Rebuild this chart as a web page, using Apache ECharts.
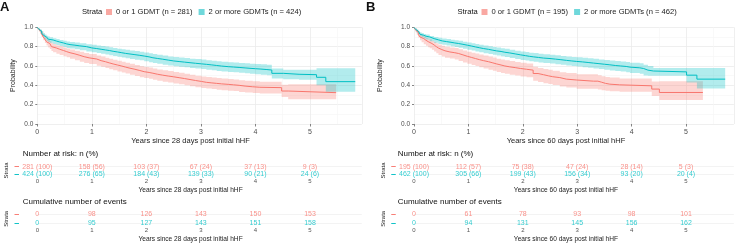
<!DOCTYPE html>
<html>
<head>
<meta charset="utf-8">
<script src="https://cdn.jsdelivr.net/npm/echarts@6/dist/echarts.min.js"></script>
<style>html,body{margin:0;padding:0;background:#fff}#chart{width:735px;height:244px}</style>
</head>
<body>
<div id="chart"></div>
<script>
// strata + group sizes
const strata = ['0 or 1 GDMT', '2 or more GDMTs'];
const nA = [281, 424];
const nB = [195, 462];
const tableYears = [0, 1, 2, 3, 4, 5];

// panel A (28 days post initial hHF) - KM curves
const timeRedA = [0, 0.03, 0.05, 0.08, 0.11, 0.14, 0.17, 0.2, 0.23, 0.26, 0.29, 0.35, 0.41, 0.48, 0.54, 0.6, 0.69, 0.78, 0.86, 0.95, 1.09, 1.17, 1.25, 1.32, 1.39, 1.47, 1.55, 1.62, 1.7, 1.79, 1.88, 1.96, 2.05, 2.12, 2.2, 2.3, 2.4, 2.5, 2.6, 2.7, 2.8, 2.9, 3.01, 3.1, 3.2, 3.29, 3.38, 3.5, 3.6, 3.7, 3.81, 3.95, 4.08, 4.48, 4.6, 5.48];
const survRedA = [1, 0.975, 0.955, 0.93, 0.9, 0.875, 0.85, 0.832, 0.817, 0.8, 0.786, 0.773, 0.76, 0.748, 0.737, 0.725, 0.71, 0.696, 0.684, 0.672, 0.655, 0.644, 0.632, 0.621, 0.61, 0.599, 0.588, 0.577, 0.566, 0.553, 0.541, 0.533, 0.525, 0.515, 0.505, 0.496, 0.488, 0.479, 0.47, 0.46, 0.45, 0.44, 0.431, 0.425, 0.42, 0.415, 0.41, 0.405, 0.4, 0.392, 0.385, 0.38, 0.376, 0.341, 0.324, 0.324];
const lowRedA  = [1, 0.955, 0.93, 0.9, 0.866, 0.838, 0.811, 0.791, 0.775, 0.756, 0.741, 0.727, 0.713, 0.701, 0.689, 0.676, 0.66, 0.645, 0.632, 0.62, 0.602, 0.591, 0.578, 0.567, 0.555, 0.544, 0.532, 0.521, 0.51, 0.497, 0.484, 0.476, 0.467, 0.457, 0.447, 0.438, 0.429, 0.42, 0.411, 0.401, 0.391, 0.381, 0.372, 0.366, 0.361, 0.355, 0.35, 0.345, 0.34, 0.332, 0.325, 0.32, 0.315, 0.28, 0.255, 0.255];
const upRedA   = [1, 0.99, 0.975, 0.955, 0.93, 0.908, 0.886, 0.869, 0.855, 0.84, 0.827, 0.815, 0.803, 0.792, 0.782, 0.771, 0.757, 0.747, 0.733, 0.724, 0.708, 0.697, 0.686, 0.676, 0.665, 0.655, 0.644, 0.633, 0.622, 0.61, 0.598, 0.59, 0.583, 0.573, 0.564, 0.555, 0.547, 0.538, 0.53, 0.52, 0.51, 0.5, 0.491, 0.485, 0.48, 0.475, 0.47, 0.465, 0.46, 0.453, 0.446, 0.442, 0.438, 0.405, 0.41, 0.41];

const timeBlueA = [0, 0.03, 0.05, 0.08, 0.11, 0.14, 0.17, 0.2, 0.23, 0.29, 0.35, 0.41, 0.48, 0.54, 0.6, 0.69, 0.78, 0.9, 1.0, 1.09, 1.17, 1.25, 1.32, 1.39, 1.47, 1.55, 1.62, 1.7, 1.79, 1.88, 1.96, 2.05, 2.12, 2.2, 2.3, 2.4, 2.5, 2.6, 2.7, 2.8, 2.9, 3.01, 3.1, 3.2, 3.29, 3.38, 3.5, 3.6, 3.7, 3.81, 3.9, 4.0, 4.1, 4.21, 4.3, 4.51, 4.8, 5.12, 5.29, 5.83];
const survBlueA = [1, 0.978, 0.962, 0.94, 0.918, 0.9, 0.886, 0.877, 0.869, 0.858, 0.848, 0.838, 0.828, 0.821, 0.815, 0.808, 0.8, 0.787, 0.78, 0.773, 0.766, 0.76, 0.752, 0.745, 0.737, 0.73, 0.724, 0.717, 0.71, 0.703, 0.694, 0.685, 0.678, 0.67, 0.661, 0.652, 0.646, 0.64, 0.634, 0.628, 0.622, 0.617, 0.611, 0.605, 0.599, 0.593, 0.589, 0.585, 0.58, 0.576, 0.572, 0.568, 0.563, 0.558, 0.524, 0.514, 0.51, 0.483, 0.438, 0.438];
const lowBlueA  = [1, 0.965, 0.945, 0.92, 0.895, 0.875, 0.859, 0.849, 0.84, 0.828, 0.817, 0.806, 0.795, 0.787, 0.78, 0.772, 0.763, 0.749, 0.741, 0.733, 0.726, 0.719, 0.711, 0.703, 0.695, 0.687, 0.68, 0.673, 0.665, 0.658, 0.648, 0.639, 0.631, 0.623, 0.614, 0.605, 0.598, 0.592, 0.586, 0.58, 0.574, 0.568, 0.562, 0.555, 0.549, 0.543, 0.539, 0.534, 0.529, 0.524, 0.52, 0.515, 0.509, 0.504, 0.47, 0.462, 0.458, 0.4, 0.334, 0.334];
const upBlueA   = [1, 0.99, 0.978, 0.96, 0.94, 0.925, 0.912, 0.904, 0.897, 0.887, 0.878, 0.869, 0.86, 0.854, 0.849, 0.843, 0.836, 0.825, 0.819, 0.813, 0.806, 0.801, 0.793, 0.787, 0.779, 0.773, 0.767, 0.761, 0.755, 0.748, 0.74, 0.731, 0.725, 0.717, 0.708, 0.699, 0.694, 0.688, 0.682, 0.676, 0.671, 0.666, 0.66, 0.655, 0.649, 0.643, 0.639, 0.636, 0.631, 0.628, 0.624, 0.621, 0.617, 0.612, 0.575, 0.562, 0.56, 0.576, 0.576, 0.576];

// panel B (60 days post initial hHF)
const timeRedB = [0, 0.03, 0.05, 0.08, 0.11, 0.14, 0.18, 0.22, 0.26, 0.29, 0.33, 0.37, 0.41, 0.45, 0.51, 0.57, 0.66, 0.75, 0.82, 0.9, 0.98, 1.06, 1.13, 1.2, 1.28, 1.37, 1.45, 1.52, 1.6, 1.67, 1.76, 1.86, 1.96, 2.07, 2.19, 2.28, 2.38, 2.47, 2.55, 2.68, 2.8, 2.99, 3.3, 3.38, 3.45, 3.52, 3.6, 3.78, 4.37, 4.51, 5.31];
const survRedB = [1, 0.97, 0.95, 0.925, 0.9, 0.883, 0.866, 0.852, 0.84, 0.832, 0.817, 0.8, 0.785, 0.77, 0.757, 0.745, 0.737, 0.729, 0.715, 0.7, 0.688, 0.677, 0.666, 0.655, 0.644, 0.632, 0.621, 0.61, 0.6, 0.591, 0.583, 0.574, 0.566, 0.557, 0.522, 0.51, 0.498, 0.489, 0.48, 0.464, 0.455, 0.443, 0.443, 0.432, 0.42, 0.412, 0.405, 0.395, 0.361, 0.326, 0.326];
const lowRedB  = [1, 0.95, 0.925, 0.895, 0.866, 0.845, 0.825, 0.808, 0.794, 0.784, 0.767, 0.749, 0.732, 0.714, 0.699, 0.686, 0.677, 0.668, 0.652, 0.636, 0.623, 0.611, 0.599, 0.587, 0.575, 0.562, 0.55, 0.539, 0.528, 0.519, 0.51, 0.501, 0.492, 0.483, 0.447, 0.435, 0.422, 0.413, 0.403, 0.387, 0.378, 0.365, 0.365, 0.356, 0.35, 0.344, 0.338, 0.333, 0.29, 0.247, 0.247];
const upRedB   = [1, 0.99, 0.975, 0.955, 0.934, 0.92, 0.905, 0.893, 0.882, 0.876, 0.862, 0.848, 0.834, 0.821, 0.809, 0.798, 0.791, 0.785, 0.772, 0.759, 0.748, 0.738, 0.728, 0.718, 0.708, 0.697, 0.687, 0.676, 0.667, 0.658, 0.651, 0.642, 0.634, 0.626, 0.592, 0.58, 0.568, 0.56, 0.551, 0.535, 0.527, 0.515, 0.515, 0.505, 0.494, 0.487, 0.48, 0.471, 0.44, 0.443, 0.443];

const timeBlueB = [0, 0.03, 0.05, 0.08, 0.11, 0.14, 0.18, 0.22, 0.29, 0.37, 0.45, 0.52, 0.6, 0.68, 0.75, 0.82, 0.9, 0.98, 1.06, 1.13, 1.2, 1.28, 1.37, 1.45, 1.52, 1.6, 1.67, 1.76, 1.86, 1.96, 2.05, 2.12, 2.2, 2.29, 2.38, 2.5, 2.6, 2.7, 2.8, 2.9, 2.99, 3.1, 3.2, 3.3, 3.4, 3.5, 3.6, 3.7, 3.8, 3.9, 3.97, 4.15, 4.22, 4.3, 4.4, 5.01, 5.2, 5.72];
const survBlueB = [1, 0.978, 0.96, 0.94, 0.928, 0.918, 0.908, 0.9, 0.883, 0.87, 0.859, 0.852, 0.845, 0.838, 0.832, 0.824, 0.815, 0.806, 0.797, 0.789, 0.78, 0.772, 0.763, 0.756, 0.75, 0.742, 0.735, 0.725, 0.715, 0.707, 0.7, 0.694, 0.688, 0.682, 0.677, 0.671, 0.665, 0.658, 0.652, 0.647, 0.642, 0.636, 0.63, 0.624, 0.618, 0.612, 0.605, 0.6, 0.595, 0.588, 0.581, 0.574, 0.557, 0.548, 0.539, 0.505, 0.464, 0.464];
const lowBlueB  = [1, 0.965, 0.944, 0.922, 0.908, 0.896, 0.885, 0.875, 0.856, 0.841, 0.828, 0.82, 0.812, 0.804, 0.797, 0.788, 0.779, 0.769, 0.759, 0.75, 0.741, 0.732, 0.723, 0.715, 0.709, 0.7, 0.693, 0.682, 0.672, 0.663, 0.656, 0.65, 0.643, 0.637, 0.632, 0.625, 0.619, 0.612, 0.605, 0.6, 0.594, 0.588, 0.581, 0.574, 0.568, 0.562, 0.554, 0.549, 0.543, 0.535, 0.528, 0.52, 0.502, 0.5, 0.498, 0.43, 0.368, 0.368];
const upBlueB   = [1, 0.99, 0.976, 0.958, 0.948, 0.94, 0.931, 0.925, 0.91, 0.899, 0.891, 0.884, 0.879, 0.872, 0.867, 0.86, 0.851, 0.843, 0.835, 0.828, 0.819, 0.812, 0.803, 0.797, 0.791, 0.784, 0.777, 0.768, 0.758, 0.751, 0.744, 0.738, 0.733, 0.727, 0.722, 0.717, 0.711, 0.704, 0.699, 0.694, 0.69, 0.684, 0.679, 0.674, 0.668, 0.662, 0.656, 0.651, 0.647, 0.64, 0.634, 0.628, 0.612, 0.6, 0.578, 0.58, 0.58, 0.58];

// number at risk n (%) and cumulative events
const riskRedA = [281, 158, 103, 67, 37, 9];
const riskPctRedA = [100, 56, 37, 24, 13, 3];
const riskBlueA = [424, 276, 184, 139, 90, 24];
const riskPctBlueA = [100, 65, 43, 33, 21, 6];
const eventsRedA = [0, 98, 126, 143, 150, 153];
const eventsBlueA = [0, 95, 127, 143, 151, 158];

const riskRedB = [195, 112, 75, 47, 28, 5];
const riskPctRedB = [100, 57, 38, 24, 14, 3];
const riskBlueB = [462, 305, 199, 156, 93, 20];
const riskPctBlueB = [100, 66, 43, 34, 20, 4];
const eventsRedB = [0, 61, 78, 93, 98, 101];
const eventsBlueB = [0, 94, 131, 145, 156, 162];

const RED = '#F8766D', CYAN = '#00BFC4';
const FONT = '"Liberation Sans", Arial, sans-serif';

const pairs = (xs, ys) => xs.map((x, i) => [x, ys[i]]);

// panel geometry (px)
const panels = [
  {left: 37.3, width: 324.5, max: 5.95, namePad: 18, xName: 'Years since 28 days post initial hHF', yNameGap: 21},
  {left: 414, width: 319.9, max: 5.88, namePad: 16, xName: 'Years since 60 days post initial hHF', yNameGap: 30}
];

const grids = [], xAxes = [], yAxes = [];
panels.forEach(p => {
  // main KM plot
  grids.push({left: p.left, width: p.width, top: 27.3, height: 96.7});
  xAxes.push({
    gridIndex: grids.length - 1, type: 'value', min: 0, max: p.max, interval: 1, offset: 2,
    name: p.xName, nameLocation: 'middle', nameGap: 10.5,
    nameTextStyle: {fontSize: 7.5, color: '#222', padding: [0, p.namePad, 0, 0]},
    axisLine: {show: false},
    axisTick: {show: true, length: 2.5, lineStyle: {color: '#666', width: 0.8}},
    axisLabel: {fontSize: 7, color: '#4d4d4d', margin: 3, showMaxLabel: false},
    splitLine: {lineStyle: {color: '#EBEBEB', width: 0.8}},
    minorTick: {show: false, splitNumber: 2},
    minorSplitLine: {show: true, lineStyle: {color: '#F5F5F5', width: 0.6}}
  });
  yAxes.push({
    gridIndex: grids.length - 1, type: 'value', min: 0, max: 1, interval: 0.2,
    name: 'Probability', nameLocation: 'middle', nameGap: p.yNameGap, nameRotate: 90,
    nameTextStyle: {fontSize: 7, color: '#222'},
    axisLine: {show: false},
    axisTick: {show: true, length: 2, lineStyle: {color: '#666', width: 0.8}},
    axisLabel: {fontSize: 6.5, color: '#4d4d4d', margin: 4, formatter: v => v.toFixed(1)},
    splitLine: {lineStyle: {color: '#EBEBEB', width: 0.8}},
    minorTick: {show: false, splitNumber: 2},
    minorSplitLine: {show: true, lineStyle: {color: '#F5F5F5', width: 0.6}}
  });
  // risk table + cumulative events table
  [[166.7, 7.6], [214.3, 9]].forEach(([top, h]) => {
    grids.push({left: p.left, width: p.width, top: top, height: h});
    xAxes.push({
      gridIndex: grids.length - 1, type: 'value', min: 0, max: p.max, interval: 1,
      name: p.xName, nameLocation: 'middle', nameGap: 12.2,
      nameTextStyle: {fontSize: 6.6, color: '#222', padding: [0, p.namePad, 0, 0]},
      axisLine: {show: false}, axisTick: {show: false}, splitLine: {show: false},
      axisLabel: {fontSize: 6, color: '#555', margin: 4.5, showMaxLabel: false}
    });
    yAxes.push({
      gridIndex: grids.length - 1, type: 'category', boundaryGap: false,
      data: [strata[1], strata[0]],
      name: 'Strata', nameLocation: 'middle', nameRotate: 90, nameGap: 28,
      nameTextStyle: {fontSize: 6, color: '#222'},
      axisLine: {show: false}, axisTick: {show: false},
      splitLine: {show: true, lineStyle: {color: '#F0F0F0', width: 0.8}},
      axisLabel: {
        margin: 18, interval: 0,
        formatter: v => v === strata[0] ? '{r|–}' : '{c|–}',
        rich: {r: {color: RED, fontSize: 9, fontWeight: 'bold'}, c: {color: CYAN, fontSize: 9, fontWeight: 'bold'}}
      }
    });
  });
});

// confidence band: one stepped polygon built from all rows of the series
function bandSeries(idx, fill, time, low, up) {
  return {
    type: 'custom', xAxisIndex: idx, yAxisIndex: idx, silent: true, z: 1, clip: true,
    data: time.map((t, i) => [t, low[i], up[i]]),
    renderItem: (params, api) => {
      if (params.dataIndexInside !== 0) return null;
      const n = params.dataInsideLength;
      const top = [], bot = [];
      for (let i = 0; i < n; i++) {
        const t0 = api.value(0, i), t1 = i < n - 1 ? api.value(0, i + 1) : t0;
        const lo = api.value(1, i), hi = api.value(2, i);
        top.push(api.coord([t0, hi]), api.coord([t1, hi]));
        bot.push(api.coord([t0, lo]), api.coord([t1, lo]));
      }
      return {type: 'polygon', shape: {points: top.concat(bot.reverse())}, style: {fill: fill}};
    }
  };
}

function kmSeries(name, idx, color, fill, time, surv, low, up) {
  return [
    bandSeries(idx, fill, time, low, up),
    {type: 'line', name: name, xAxisIndex: idx, yAxisIndex: idx, step: 'end', symbol: 'none', silent: true,
      lineStyle: {color: color, width: 1}, itemStyle: {color: color}, data: pairs(time, surv), z: 3}
  ];
}

function tableSeries(idx, texts, cat, color) {
  return {
    type: 'scatter', xAxisIndex: idx, yAxisIndex: idx, symbolSize: 1, silent: true,
    itemStyle: {color: 'transparent'},
    data: tableYears.map((t, i) => [t, cat, texts[i]]),
    label: {show: true, position: 'inside', fontSize: 7, color: color, formatter: p => p.value[2]}
  };
}

const riskText = (n, pct) => n.map((v, i) => v + ' (' + pct[i] + ')');
const legName = (s, n) => s + ' (n = ' + n + ')';
const FILL_RED = 'rgba(248,118,109,0.3)', FILL_CYAN = 'rgba(0,191,196,0.3)';

const series = [
  ...kmSeries(legName(strata[0], nA[0]), 0, RED, FILL_RED, timeRedA, survRedA, lowRedA, upRedA),
  ...kmSeries(legName(strata[1], nA[1]), 0, CYAN, FILL_CYAN, timeBlueA, survBlueA, lowBlueA, upBlueA),
  tableSeries(1, riskText(riskRedA, riskPctRedA), strata[0], RED),
  tableSeries(1, riskText(riskBlueA, riskPctBlueA), strata[1], CYAN),
  tableSeries(2, eventsRedA.map(String), strata[0], RED),
  tableSeries(2, eventsBlueA.map(String), strata[1], CYAN),
  ...kmSeries(legName(strata[0], nB[0]), 3, RED, FILL_RED, timeRedB, survRedB, lowRedB, upRedB),
  ...kmSeries(legName(strata[1], nB[1]), 3, CYAN, FILL_CYAN, timeBlueB, survBlueB, lowBlueB, upBlueB),
  tableSeries(4, riskText(riskRedB, riskPctRedB), strata[0], RED),
  tableSeries(4, riskText(riskBlueB, riskPctBlueB), strata[1], CYAN),
  tableSeries(5, eventsRedB.map(String), strata[0], RED),
  tableSeries(5, eventsBlueB.map(String), strata[1], CYAN)
];

const legendBase = {
  top: 8, itemWidth: 6, itemHeight: 6, itemGap: 6, padding: 0, icon: 'rect',
  textStyle: {fontSize: 7.6, color: '#222', padding: [0, 0, 0, -1]}, selectedMode: false
};

const titleStyle = (size, bold) => ({fontSize: size, fontWeight: bold ? 'bold' : 'normal', color: '#111', fontFamily: FONT});
const titles = [
  {text: 'A', left: 0, top: 1, padding: 0, textStyle: titleStyle(13, true)},
  {text: 'B', left: 366, top: 1, padding: 0, textStyle: titleStyle(13, true)},
  {text: 'Strata', left: 82, top: 8.3, padding: 0, textStyle: titleStyle(7.6)},
  {text: 'Strata', left: 457.5, top: 8.3, padding: 0, textStyle: titleStyle(7.6)},
  {text: 'Number at risk: n (%)', left: 22.7, top: 149.5, padding: 0, textStyle: titleStyle(8)},
  {text: 'Cumulative number of events', left: 22.7, top: 197.5, padding: 0, textStyle: titleStyle(8)},
  {text: 'Number at risk: n (%)', left: 397.7, top: 149.5, padding: 0, textStyle: titleStyle(8)},
  {text: 'Cumulative number of events', left: 397.7, top: 197.5, padding: 0, textStyle: titleStyle(8)}
];

const chart = echarts.init(document.getElementById('chart'));
chart.setOption({
  animation: false,
  backgroundColor: '#fff',
  textStyle: {fontFamily: FONT},
  title: titles,
  legend: [
    {...legendBase, left: 106, data: [
      {name: legName(strata[0], nA[0]), itemStyle: {color: '#F9A8A2'}},
      {name: legName(strata[1], nA[1]), itemStyle: {color: '#6FD8DB'}}]},
    {...legendBase, left: 481.5, data: [
      {name: legName(strata[0], nB[0]), itemStyle: {color: '#F9A8A2'}},
      {name: legName(strata[1], nB[1]), itemStyle: {color: '#6FD8DB'}}]}
  ],
  grid: grids,
  xAxis: xAxes,
  yAxis: yAxes,
  series: series
});
</script>
</body>
</html>
